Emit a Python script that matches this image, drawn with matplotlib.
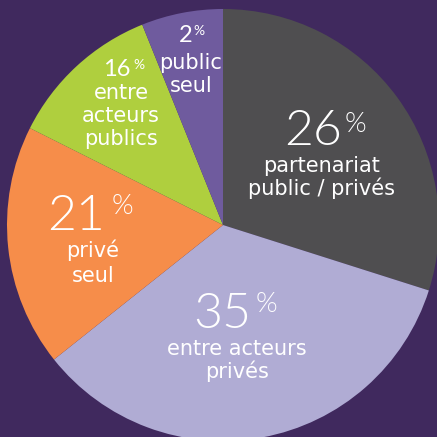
import matplotlib
matplotlib.use("Agg")
import matplotlib.pyplot as plt
from matplotlib import font_manager as fm

# ---- data ----
labels_pct = ["26", "35", "21", "16", "2"]
labels_txt = ["partenariat\npublic / privés", "entre acteurs\nprivés", "privé\nseul",
              "entre\nacteurs\npublics", "public\nseul"]
# slice sizes as drawn in the picture (angles)
drawn_sizes = [29.9, 34.4, 18.1, 11.5, 6.1]
colors = ["#4f4e50", "#b0acd4", "#f68d4a", "#afcf3e", "#6f5b9e"]
bg = "#40295e"

W = H = 437

def pick_path(lo, hi):
    for fam in ["Lato", "Open Sans", "Roboto", "Inter", "Noto Sans"]:
        cands = [f for f in fm.fontManager.ttflist
                 if f.name == fam and f.style == "normal"
                 and isinstance(f.weight, int) and lo <= f.weight <= hi]
        cands = [f for f in cands if "hair" not in f.fname.lower()
                 and "thin" not in f.fname.lower()]
        if cands:
            return cands[0].fname
    return None

light_path = pick_path(280, 320)
reg_path = pick_path(380, 420)

def props(path, size):
    if path:
        return fm.FontProperties(fname=path, size=size)
    return fm.FontProperties(family="DejaVu Sans", size=size)

body_fam = "DejaVu Sans"

fig = plt.figure(figsize=(4.37, 4.37), dpi=100, facecolor=bg)
ax = fig.add_axes([0, 0, 1, 1])
ax.set_facecolor(bg)

cx, cy, r = 223, H - 225, 216
ax.pie(drawn_sizes, colors=colors, startangle=90, counterclock=False,
       center=(cx, cy), radius=r, wedgeprops=dict(linewidth=0))
ax.set_xlim(0, W)
ax.set_ylim(0, H)
ax.set_aspect("equal")
ax.axis("off")

def Y(y):
    return H - y

# label layout: (num right x, num baseline, % left x, % top, num size, pct size,
#                text center x, first baseline, line spacing, big?)
layout = [
    (342, 145, 345, 112, 36, 20, 322, 172, 23, True),
    (251, 328, 256, 292, 36, 20, 237, 355, 23, True),
    (105, 230, 112, 194, 36, 20, 93, 257, 25, True),
    (131, 76, 133, 59, 17, 10, 121, 99, 23, False),
    (192, 42, 193, 25, 17, 10, 191, 69, 23, False),
]

for pct, txt, (nx, nb, px, pt, ns, ps, tx, tb, ls, big) in zip(labels_pct, labels_txt, layout):
    path = light_path if big else reg_path
    ax.text(nx, Y(nb), pct, ha="right", va="baseline", color="white",
            fontproperties=props(path, ns))
    ax.text(px, Y(pt), "%", ha="left", va="top", color="white",
            fontproperties=props(light_path if big else reg_path, ps))
    for i, line in enumerate(txt.split("\n")):
        ax.text(tx, Y(tb + i * ls), line, ha="center", va="baseline", color="white",
                fontsize=15, family=body_fam)

fig.savefig("out.png", dpi=100, facecolor=bg)
